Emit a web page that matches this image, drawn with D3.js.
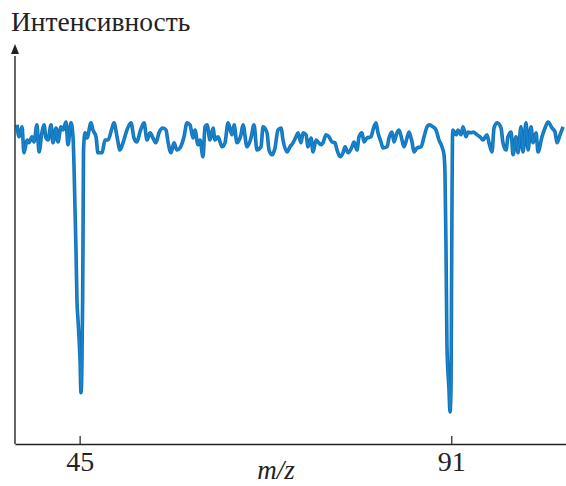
<!DOCTYPE html>
<html>
<head>
<meta charset="utf-8">
<script src="https://d3js.org/d3.v7.min.js"></script>
<style>
  body { margin: 0; background: #fff; }
  .label { font-family: "Times New Roman", "Liberation Serif", Times, "DejaVu Serif", serif; fill: #222; }
  .x.axis text { font-family: "Times New Roman", "Liberation Serif", Times, "DejaVu Serif", serif; font-size: 28px; fill: #222; }
</style>
</head>
<body>
<div id="chart"></div>
<script>
// m/z positions and intensity (arbitrary units)
var mz = [
  37.25, 37.5, 37.87, 38.11, 38.49, 38.73, 39.10, 39.35, 39.72, 39.97,
  40.34, 40.59, 40.84, 41.08, 41.46, 41.70, 42.08, 42.32, 42.69, 42.94,
  43.31, 43.56, 43.93, 44.18, 44.30, 44.43, 44.55, 44.67, 44.80, 45.05,
  45.17, 45.29, 45.37, 45.42, 45.48, 45.67, 45.91, 46.41, 46.65, 47.03,
  47.27, 47.77, 48.14, 48.51, 49.01, 49.25, 49.63, 50.00, 50.37, 50.86,
  51.36, 51.73, 52.10, 52.47, 52.97, 53.34, 53.71, 54.08, 54.45, 54.82,
  55.32, 55.69, 55.94, 56.31, 56.68, 57.05, 57.42, 57.92, 58.29, 58.66,
  59.03, 59.28, 59.65, 59.90, 60.27, 60.52, 60.77, 61.14, 61.51, 61.76,
  62.13, 62.62, 62.99, 63.37, 63.86, 64.11, 64.48, 64.97, 65.22, 65.72,
  66.21, 66.58, 66.95, 67.45, 67.70, 68.19, 68.44, 68.81, 69.18, 69.55,
  69.93, 70.17, 70.67, 71.04, 71.41, 71.78, 72.03, 72.40, 72.65, 73.02,
  73.27, 73.64, 73.89, 74.26, 74.51, 74.88, 75.12, 75.50, 75.87, 76.24,
  76.61, 76.86, 77.23, 77.60, 77.85, 78.22, 78.71, 78.96, 79.33, 79.58,
  79.95, 80.20, 80.57, 81.07, 81.31, 81.68, 81.93, 82.30, 82.55, 83.05,
  83.29, 83.67, 83.91, 84.28, 84.53, 84.90, 85.15, 85.52, 85.77, 86.14,
  86.39, 86.76, 87.26, 87.63, 88.00, 88.25, 88.74, 89.11, 89.48, 89.85,
  90.10, 90.22, 90.35, 90.47, 90.72, 90.84, 90.97, 91.03, 91.09, 91.15,
  91.22, 91.59, 91.84, 92.21, 92.45, 92.83, 93.07, 93.44, 93.69, 94.19,
  94.56, 94.93, 95.42, 95.67, 96.04, 96.29, 96.66, 97.16, 97.40, 97.78,
  98.02, 98.40, 98.64, 99.01, 99.26, 99.63, 99.88, 100.25, 100.50, 100.87,
  101.12, 101.49, 101.74, 102.23, 102.60, 102.98, 103.47, 103.84, 104.09, 104.46,
  104.83
];
var intensity = [
  79.8, 76.8, 79.3, 72.8, 76.0, 75.3, 76.8, 75.5, 79.8, 73.0,
  78.0, 79.8, 76.5, 76.0, 79.8, 75.3, 79.0, 75.5, 79.3, 78.5,
  80.5, 74.8, 80.3, 76.8, 69.8, 58.5, 48.5, 36.0, 31.0, 21.0,
  12.8, 21.0, 36.0, 51.0, 73.5, 77.8, 76.5, 80.3, 78.5, 76.8,
  72.8, 72.8, 76.0, 76.0, 79.0, 80.3, 76.8, 73.5, 75.3, 78.5,
  80.3, 76.5, 75.5, 78.0, 80.3, 76.0, 77.8, 76.5, 75.3, 77.8,
  79.0, 78.5, 75.5, 72.8, 75.3, 73.5, 74.0, 76.8, 80.3, 79.8,
  76.5, 78.5, 74.8, 76.0, 71.8, 79.3, 79.8, 76.0, 79.0, 76.0,
  76.8, 74.3, 75.3, 80.3, 77.3, 79.8, 75.3, 77.3, 79.8, 74.3,
  76.5, 79.8, 73.5, 74.3, 79.3, 77.8, 73.5, 72.3, 74.0, 78.5,
  79.0, 76.0, 73.0, 74.3, 75.3, 76.8, 77.8, 75.3, 77.8, 77.3,
  74.3, 76.5, 73.0, 76.0, 75.5, 74.8, 75.3, 77.3, 76.8, 75.5,
  75.3, 73.5, 71.8, 72.8, 74.3, 72.8, 74.3, 75.5, 73.5, 76.8,
  77.8, 75.5, 76.5, 76.8, 78.5, 80.3, 77.8, 75.5, 74.0, 74.3,
  76.5, 78.0, 75.5, 77.8, 78.5, 76.0, 74.3, 76.5, 78.0, 75.5,
  73.0, 74.0, 74.3, 76.8, 79.3, 79.8, 79.3, 78.5, 76.0, 74.3,
  72.3, 67.8, 48.5, 24.3, 13.5, 8.0, 14.3, 38.5, 61.0, 76.8,
  78.5, 77.3, 78.5, 77.3, 79.3, 76.8, 78.0, 77.8, 78.0, 77.3,
  76.8, 76.0, 77.3, 75.3, 73.0, 79.0, 80.3, 79.0, 75.3, 73.5,
  76.8, 78.0, 72.3, 76.8, 72.8, 79.3, 73.0, 80.3, 73.5, 79.3,
  75.3, 77.8, 73.0, 76.8, 79.0, 80.5, 79.0, 78.0, 75.3, 77.3,
  79.3
];
var tickValues = [45, 91];
var yTitle = "Интенсивность";
var xTitle = "m/z";

var width = 566, height = 486;
var margin = {top: 44, right: 0, bottom: 42, left: 15};

var svg = d3.select("#chart")
  .append("svg")
  .attr("width", width)
  .attr("height", height);

var xScale = d3.scaleLinear()
  .domain([37, 105.2])
  .range([margin.left, width - margin.right]);

var yScale = d3.scaleLinear()
  .domain([0, 100])
  .range([height - margin.bottom, margin.top]);

var data = mz.map(function(d, i) { return {mz: d, v: intensity[i]}; });

// spectrum trace
var line = d3.line()
  .x(function(d) { return xScale(d.mz); })
  .y(function(d) { return yScale(d.v); })
  .curve(d3.curveMonotoneX);

svg.append("path")
  .datum(data)
  .attr("fill", "none")
  .attr("stroke", "#1273bb")
  .attr("stroke-width", 3.6)
  .attr("stroke-linejoin", "round")
  .attr("d", line);

svg.append("path")
  .datum(data)
  .attr("fill", "none")
  .attr("stroke", "#1a86cc")
  .attr("stroke-width", 1.4)
  .attr("stroke-linejoin", "round")
  .attr("d", line);

// x axis with ticks pointing up
var xAxis = svg.append("g")
  .attr("class", "x axis")
  .attr("transform", "translate(0," + yScale(0) + ")")
  .call(d3.axisBottom(xScale)
    .tickValues(tickValues)
    .tickSizeInner(-8)
    .tickSizeOuter(0)
    .tickPadding(7));
xAxis.attr("font-family", null);
xAxis.select(".domain").attr("stroke", "#222").attr("stroke-width", 1.4);
xAxis.selectAll(".tick line").attr("stroke", "#222").attr("stroke-width", 1.2);

// y axis: plain line with arrow
svg.append("line")
  .attr("x1", xScale(37)).attr("x2", xScale(37))
  .attr("y1", yScale(0)).attr("y2", yScale(97))
  .attr("stroke", "#222")
  .attr("stroke-width", 1.4);
svg.append("path")
  .attr("d", "M" + (xScale(37) - 4) + "," + (yScale(100) + 10) +
             "L" + xScale(37) + "," + yScale(100) +
             "L" + (xScale(37) + 4) + "," + (yScale(100) + 10) + "Z")
  .attr("fill", "#222");

// titles
svg.append("text")
  .attr("class", "label")
  .attr("x", 11)
  .attr("y", 31)
  .style("font-size", "27.5px")
  .text(yTitle);

svg.append("text")
  .attr("class", "label")
  .attr("x", xScale(69.3))
  .attr("y", 479)
  .attr("text-anchor", "middle")
  .style("font-size", "27px")
  .style("font-style", "italic")
  .text(xTitle);
</script>
</body>
</html>
